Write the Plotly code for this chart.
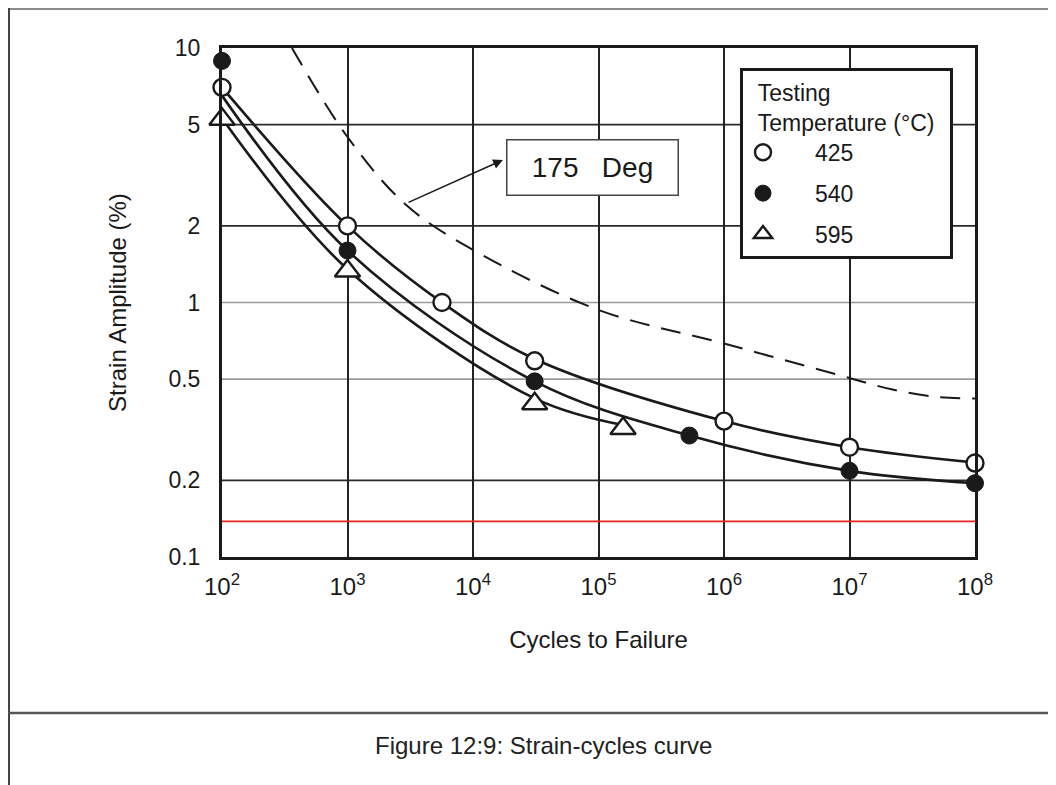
import plotly.graph_objects as go
import numpy as np

# ---------------- data ----------------
tick_cycles = [1e2, 1e3, 1e4, 1e5, 1e6, 1e7, 1e8]
tick_cycles_text = ["10<sup>2</sup>", "10<sup>3</sup>", "10<sup>4</sup>", "10<sup>5</sup>",
                    "10<sup>6</sup>", "10<sup>7</sup>", "10<sup>8</sup>"]
tick_strain = [0.1, 0.2, 0.5, 1, 2, 5, 10]
tick_strain_text = ["0.1", "0.2", "0.5", "1", "2", "5", "10"]

# measured points
cyc_425 = [100, 1000, 5660, 31000, 1.0e6, 1.0e7, 1.0e8]
eps_425 = [7.0, 2.0, 1.0, 0.59, 0.342, 0.27, 0.234]
cyc_540 = [100, 1000, 31000, 5.3e5, 1.0e7, 1.0e8]
eps_540 = [8.9, 1.6, 0.49, 0.30, 0.218, 0.195]
cyc_595 = [100, 1000, 31000, 1.57e5]
eps_595 = [5.25, 1.33, 0.40, 0.32]

# fitted curves
curve_425_x = [100, 1000, 5660, 31000, 1e6, 1e7, 1e8]
curve_425_y = [7.0, 2.0, 1.0, 0.60, 0.342, 0.27, 0.235]
curve_540_x = [100, 1000, 31000, 5.3e5, 1e7, 1e8]
curve_540_y = [6.5, 1.6, 0.49, 0.30, 0.218, 0.195]
curve_595_x = [100, 1000, 31000, 1.57e5]
curve_595_y = [5.3, 1.35, 0.42, 0.33]

# 175 Deg dashed curve
curve_175_x = [361, 1000, 2920, 1e4, 1e5, 1e6, 1e7, 2.2e7, 5e7, 1e8]
curve_175_y = [10, 4.47, 2.42, 1.61, 0.935, 0.69, 0.505, 0.455, 0.425, 0.42]

# red horizontal line
red_line_x = [100, 1.12e8]
red_line_y = [0.138, 0.138]

grid_dark = [0.2, 2, 5]
grid_light = [0.5, 1]

series_names = ["425", "540", "595"]
label_175 = "175   Deg"
legend_title = "Testing<br>Temperature (°C)"
caption = "Figure 12:9: Strain-cycles curve"

# ---------------- layout geometry ----------------
OFF = 8                      # page body margin
W, H = 1056 - OFF, 785 - OFF
L, R, T, B = 222 - OFF, 81, 48 - OFF, 228
PW, PH = W - L - R, H - T - B


def px(x_page):
    return (x_page - OFF - L) / PW


def py(y_page):
    return (H - B - (y_page - OFF)) / PH


FONT = "Liberation Sans, Arial, Helvetica, sans-serif"
INK = "#1a1a1a"
NB = "\u00a0"

fig = go.Figure()

# curves
for cx, cy in [(curve_425_x, curve_425_y), (curve_540_x, curve_540_y), (curve_595_x, curve_595_y)]:
    fig.add_trace(go.Scatter(x=cx, y=cy, mode="lines", line=dict(color=INK, width=2.6, shape="spline", smoothing=1.0),
                             showlegend=False, hoverinfo="skip"))

fig.add_trace(go.Scatter(x=curve_175_x, y=curve_175_y, mode="lines",
                         line=dict(color=INK, width=2, dash="20px,12px", shape="spline", smoothing=1.0),
                         showlegend=False, hoverinfo="skip"))

fig.add_trace(go.Scatter(x=red_line_x, y=red_line_y, mode="lines", line=dict(color="#e8231c", width=1.6),
                         showlegend=False, hoverinfo="skip"))

# markers
fig.add_trace(go.Scatter(x=cyc_425, y=eps_425, mode="markers", name=NB * 5 + series_names[0], legendgroup="a",
                         marker=dict(symbol="circle", size=17, color="white", line=dict(color=INK, width=2.4)),
                         cliponaxis=False))
fig.add_trace(go.Scatter(x=cyc_540, y=eps_540, mode="markers", name=NB * 5 + series_names[1], legendgroup="b",
                         marker=dict(symbol="circle", size=17, color=INK, line=dict(color=INK, width=1)),
                         cliponaxis=False))
fig.add_trace(go.Scatter(x=cyc_595, y=eps_595, mode="markers", name=NB * 5 + series_names[2], legendgroup="c",
                         marker=dict(symbol="triangle-up", size=22, color="white", line=dict(color=INK, width=2.4)),
                         cliponaxis=False))

# grid lines
for g in grid_dark:
    fig.add_hline(y=g, line=dict(color="#2a2a2a", width=1.6), layer="below")
for g in grid_light:
    fig.add_hline(y=g, line=dict(color="#9a9a9a", width=1.6), layer="below")

# frame of the scanned page
fig.add_shape(type="line", xref="paper", yref="paper", x0=px(8), x1=px(1056), y0=py(9), y1=py(9),
              line=dict(color="#8c8c8c", width=2))
fig.add_shape(type="line", xref="paper", yref="paper", x0=px(9), x1=px(9), y0=py(8), y1=py(785),
              line=dict(color="#444444", width=2))
fig.add_shape(type="line", xref="paper", yref="paper", x0=px(8), x1=px(1056), y0=py(713), y1=py(713),
              line=dict(color="#555555", width=2.5))

# 175 Deg label and arrow
fig.add_annotation(x=np.log10(8.9e4), y=np.log10(3.38), xref="x", yref="y", text=label_175, showarrow=False,
                   font=dict(family=FONT, size=28, color=INK), bordercolor="#444", borderwidth=1.5,
                   width=170, height=54, bgcolor="white", borderpad=0)
fig.add_annotation(x=np.log10(1.73e4), y=np.log10(3.63), xref="x", yref="y",
                   ax=np.log10(2980), ay=np.log10(2.46), axref="x", ayref="y",
                   text="", showarrow=True, arrowhead=2, arrowsize=1.3, arrowwidth=1.5, arrowcolor=INK)

fig.add_annotation(x=px(543), y=py(745), xref="paper", yref="paper", xanchor="center", yanchor="middle",
                   text=caption, showarrow=False, font=dict(family=FONT, size=24, color="#222"))

fig.update_xaxes(type="log", range=[2, 8], tickvals=tick_cycles, ticktext=tick_cycles_text,
                 showgrid=True, gridcolor="#222", gridwidth=2,
                 showline=True, linecolor=INK, linewidth=3, mirror=True, ticks="",
                 tickfont=dict(family=FONT, size=24, color=INK), ticklabelstandoff=6,
                 title=dict(text="Cycles to Failure", font=dict(family=FONT, size=24, color=INK), standoff=33),
                 zeroline=False)
fig.update_yaxes(type="log", range=[-1, 1], tickvals=tick_strain, ticktext=tick_strain_text,
                 showgrid=False,
                 showline=True, linecolor=INK, linewidth=3, mirror=True, ticks="",
                 tickfont=dict(family=FONT, size=23, color=INK), ticklabelstandoff=14,
                 title=dict(text="Strain Amplitude (%)", font=dict(family=FONT, size=24, color=INK), standoff=36),
                 zeroline=False)

title_lines = legend_title.split("<br>")
fig.update_layout(
    width=W, height=H, autosize=False,
    margin=dict(l=L, r=R, t=T, b=B, autoexpand=False),
    paper_bgcolor="white", plot_bgcolor="white",
    font=dict(family=FONT, color=INK),
    legend=dict(x=px(740), y=py(68), xanchor="left", yanchor="top",
                bordercolor=INK, borderwidth=3, bgcolor="white",
                title=dict(text="<br>".join(NB * 2 + t + NB * 2 for t in title_lines),
                           font=dict(family=FONT, size=23, color=INK)),
                font=dict(family=FONT, size=23, color=INK), itemwidth=30, tracegroupgap=8,
                traceorder="grouped"),
    showlegend=True,
)

fig.write_html("out.html")
